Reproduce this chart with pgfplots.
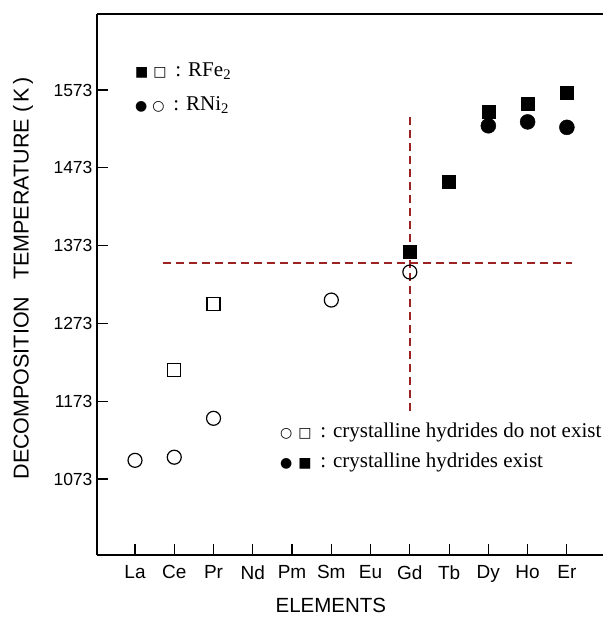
\documentclass[border=0pt]{standalone}
\usepackage{fontspec}
\setmainfont{Liberation Serif}
\setsansfont{Liberation Sans}
\newfontfamily\sym{DejaVu Sans}
\usepackage{pgfplots}
\pgfplotsset{compat=1.18}
\definecolor{dred}{RGB}{155,35,35}
\begin{document}
\begin{tikzpicture}
\path[use as bounding box] (-97pt,-64pt) rectangle (506pt,555pt);
\begin{axis}[
 at={(0,0)}, anchor=south west,
 scale only axis, width=506pt, height=541pt,
 xmin=-0.968, xmax=11.92, ymin=975.3, ymax=1670.7,
 clip=false,
 separate axis lines,
 axis x line=box, axis y line=left,
 x axis line style={-}, y axis line style={-},
 axis line style={line width=1.3pt},
 xtick={0,...,11},
 xticklabels={La,Ce,Pr,Nd,Pm,Sm,Eu,Gd,Tb,Dy,Ho,Er},
 xtick pos=bottom,
 ytick={1073,1173,1273,1373,1473,1573},
 yticklabels={1073,1173,1273,1373,1473,1573},
 tick align=inside,
 major tick length=11pt,
 tick style={line width=1.1pt, black},
 /pgf/number format/assume math mode=true,
 xticklabel style={font=\sffamily\fontsize{19}{21}\selectfont, yshift=-7pt},
 yticklabel style={font=\sffamily\fontsize{17.5}{19}\selectfont, xshift=-1pt},
]
\addplot[dred, line width=1.8pt, dash pattern=on 8pt off 5pt] coordinates {(0.71,1351) (11.13,1351)};
\addplot[dred, line width=1.8pt, dash pattern=on 8pt off 5pt] coordinates {(7,1538) (7,1159)};
\addplot[only marks, mark=o, mark size=7pt, black, line width=1.2pt] coordinates {(0,1097)(1,1101)(2,1151)(5,1303)(7,1339)};
\addplot[only marks, mark=square, mark size=6.5pt, black, line width=1.2pt] coordinates {(1,1213)(2,1298)};
\addplot[only marks, mark=square*, mark size=6.5pt, black, fill=black] coordinates {(7,1365)(8,1455)(9,1545)(10,1556)(11,1570)};
\addplot[only marks, mark=*, mark size=7.5pt, black, fill=black] coordinates {(9,1527)(10,1532)(11,1525)};
\node[rotate=90, font=\sffamily\fontsize{21.5}{24}\selectfont] at (axis cs:-2.85,1331) {DECOMPOSITION\hspace{17pt}TEMPERATURE (\,K\,)};
\node[anchor=base, inner sep=0pt, font=\sffamily\fontsize{20.5}{24}\selectfont] at (axis cs:4.99,901) {ELEMENTS};
\node[anchor=base west, inner sep=0pt, font=\fontsize{21}{24}\selectfont] at (axis cs:0,1591) {{\sym\fontsize{14}{16}\selectfont ■\hspace{5pt}□}\, : RFe\textsubscript{2}};
\node[anchor=base west, inner sep=0pt, font=\fontsize{21}{24}\selectfont] at (axis cs:0,1547) {{\sym\fontsize{14}{16}\selectfont ●\hspace{5pt}○}\, : RNi\textsubscript{2}};
\node[anchor=base west, inner sep=0pt, font=\fontsize{21}{24}\selectfont] at (axis cs:3.69,1126) {{\sym\fontsize{14}{16}\selectfont ○\hspace{6pt}□}\, : crystalline hydrides do not exist};
\node[anchor=base west, inner sep=0pt, font=\fontsize{21}{24}\selectfont] at (axis cs:3.69,1088) {{\sym\fontsize{14}{16}\selectfont ●\hspace{6pt}■}\, : crystalline hydrides exist};
\end{axis}
\end{tikzpicture}
\end{document}
